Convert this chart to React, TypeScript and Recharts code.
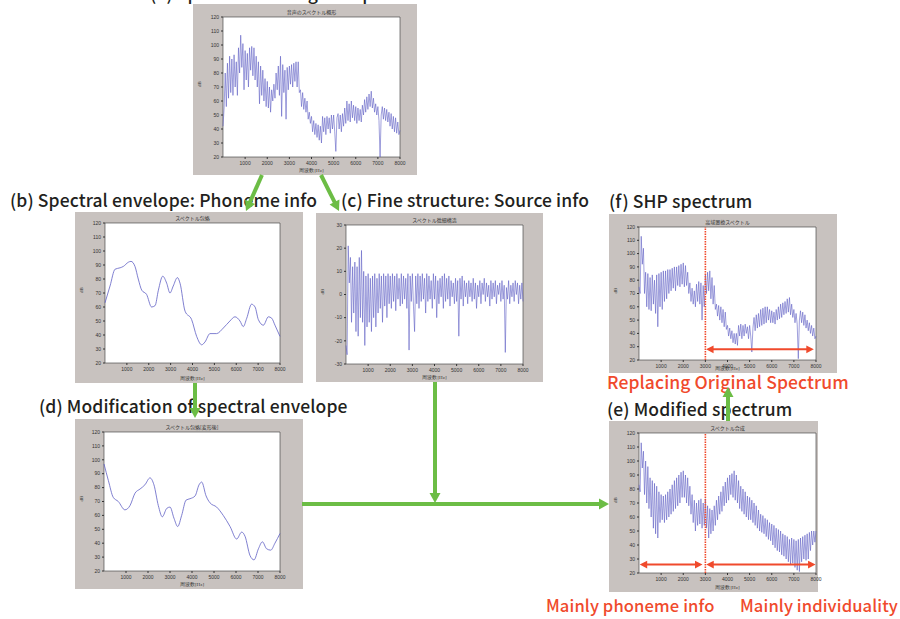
import React from "react"
import { Line, LineChart, ReferenceArea, ReferenceLine, XAxis, YAxis } from "recharts"

// frequency grid of the dense spectra (Hz)
const FREQ = [
  0, 50, 100, 150, 200, 250, 300, 350, 400, 450, 500, 550, 600, 650, 700, 750, 800, 850, 900, 950,
  1000, 1050, 1100, 1150, 1200, 1250, 1300, 1350, 1400, 1450, 1500, 1550, 1600, 1650, 1700, 1750, 1800, 1850, 1900, 1950,
  2000, 2050, 2100, 2150, 2200, 2250, 2300, 2350, 2400, 2450, 2500, 2550, 2600, 2650, 2700, 2750, 2800, 2850, 2900, 2950,
  3000, 3050, 3100, 3150, 3200, 3250, 3300, 3350, 3400, 3450, 3500, 3550, 3600, 3650, 3700, 3750, 3800, 3850, 3900, 3950,
  4000, 4050, 4100, 4150, 4200, 4250, 4300, 4350, 4400, 4450, 4500, 4550, 4600, 4650, 4700, 4750, 4800, 4850, 4900, 4950,
  5000, 5050, 5100, 5150, 5200, 5250, 5300, 5350, 5400, 5450, 5500, 5550, 5600, 5650, 5700, 5750, 5800, 5850, 5900, 5950,
  6000, 6050, 6100, 6150, 6200, 6250, 6300, 6350, 6400, 6450, 6500, 6550, 6600, 6650, 6700, 6750, 6800, 6850, 6900, 6950,
  7000, 7050, 7100, 7150, 7200, 7250, 7300, 7350, 7400, 7450, 7500, 7550, 7600, 7650, 7700, 7750, 7800, 7850, 7900, 7950,
  8000,
]

// (a) original speech spectrum, dB
const SPEECH_DB = [
  42, 55, 80, 56, 87, 62, 92, 66, 90, 64, 93, 70, 88, 64, 98, 80, 107, 84, 101, 68,
  96, 75, 94, 70, 98, 82, 99, 78, 98, 75, 92, 70, 88, 58, 85, 64, 82, 60, 76, 56,
  74, 55, 70, 52, 68, 60, 72, 62, 80, 68, 85, 64, 92, 49, 86, 66, 82, 47, 84, 68,
  85, 72, 86, 70, 87, 74, 88, 70, 88, 66, 68, 56, 66, 54, 62, 52, 60, 47, 52, 44,
  49, 38, 46, 36, 44, 34, 43, 32, 42, 30, 49, 38, 48, 36, 49, 40, 48, 37, 50, 40,
  50, 38, 24, 48, 51, 40, 50, 38, 51, 42, 55, 44, 60, 46, 58, 45, 60, 48, 57, 46,
  56, 44, 55, 46, 54, 45, 57, 50, 61, 52, 63, 54, 65, 56, 67, 55, 62, 52, 58, 50,
  56, 46, 20, 50, 56, 47, 55, 46, 54, 45, 52, 42, 51, 40, 49, 38, 48, 37, 45, 36,
  39,
]

// (c) fine structure, dB
const FINE_DB = [
  -22, -26, 21, 5, 16, -12, 12, -8, 14, -16, 12, -18, 16, -10, 19, -12, 10, -22, 8, -14,
  9, -12, 7, -16, 8, -10, 9, -14, 7, -8, 9, -6, 8, -12, 9, -5, 8, -10, 9, -4,
  8, -6, 9, -3, 8, -7, 9, -2, 7, -5, 9, -4, 8, -2, 7, -6, 9, -24, 8, -3,
  9, -5, -16, 8, -4, 9, -6, 8, -3, 9, -2, 7, -8, 9, -3, 8, -2, 6, -6, 9,
  -2, 8, -10, 6, -4, 7, -1, 8, -6, 9, -3, 7, -2, 8, -5, 6, -1, 5, -4, 7,
  -3, 6, -18, 7, -2, 8, -5, 6, -1, 5, -4, 6, -1, 5, -3, 7, -2, 5, -6, 4,
  -1, 6, -4, 5, 0, 7, -3, 5, -1, 4, -5, 6, -2, 5, -1, 6, -4, 4, 0, 5,
  -3, 6, -2, 4, -25, 3, -2, 6, -4, 4, -1, 5, -3, 6, 0, 5, -4, 4, -2, 5,
  -3,
]

// (f) SHP spectrum, dB
const SHP_DB = [
  75, 70, 113, 92, 104, 70, 86, 60, 85, 58, 82, 57, 84, 62, 80, 55, 84, 45, 85, 60,
  86, 58, 87, 64, 87, 66, 88, 70, 88, 72, 89, 74, 90, 72, 90, 76, 91, 75, 92, 77,
  93, 75, 91, 76, 86, 70, 78, 64, 74, 62, 72, 60, 77, 64, 79, 62, 78, 50, 76, 60,
  84, 70, 86, 72, 87, 66, 82, 62, 76, 58, 62, 53, 61, 50, 60, 48, 58, 45, 56, 43,
  46, 38, 44, 36, 42, 33, 40, 32, 40, 31, 46, 38, 47, 36, 46, 38, 47, 40, 45, 36,
  46, 38, 26, 44, 52, 42, 54, 44, 55, 45, 58, 46, 59, 47, 60, 48, 60, 50, 58, 48,
  57, 48, 56, 47, 58, 50, 60, 51, 62, 52, 63, 54, 64, 55, 66, 56, 67, 54, 62, 52,
  58, 48, 55, 47, 21, 50, 57, 48, 56, 46, 54, 44, 50, 42, 48, 40, 46, 38, 44, 36,
  38,
]

// (e) modified spectrum, dB
const MODIFIED_DB = [
  83, 78, 113, 95, 107, 76, 100, 70, 96, 66, 88, 60, 86, 52, 84, 48, 82, 45, 78, 56,
  76, 58, 75, 56, 76, 58, 78, 60, 80, 62, 83, 64, 86, 66, 88, 68, 90, 70, 92, 74,
  93, 74, 90, 70, 88, 68, 82, 62, 76, 56, 72, 50, 70, 54, 72, 55, 73, 52, 70, 54,
  73, 52, 68, 45, 66, 48, 65, 50, 68, 54, 72, 58, 75, 62, 78, 64, 82, 68, 85, 70,
  88, 72, 90, 76, 91, 74, 93, 72, 90, 70, 86, 66, 82, 64, 80, 62, 78, 60, 75, 58,
  74, 58, 72, 56, 70, 54, 68, 52, 65, 50, 62, 49, 61, 48, 59, 46, 58, 44, 56, 43,
  55, 40, 54, 38, 52, 36, 51, 35, 50, 33, 48, 32, 47, 30, 46, 28, 44, 26, 45, 27,
  44, 24, 43, 22, 44, 21, 45, 28, 46, 30, 47, 29, 48, 30, 49, 36, 50, 40, 50, 42,
  50,
]

// (b) spectral envelope
const ENV_FREQ = [
  0, 230, 460, 690, 840, 1070, 1190, 1370, 1520, 1680, 1900, 2130, 2290, 2440, 2640, 2820, 2970, 3120, 3310, 3430,
  3660, 3960, 4190, 4420, 4570, 4800, 5100, 5410, 5710, 5940, 6170, 6320, 6480, 6700, 6860, 7010, 7240, 7470, 7620,
  7770, 8000,
]
const ENV_DB = [
  63, 75, 87, 88, 89, 92, 92.6, 89, 80, 72, 69, 60, 61, 72, 82, 77, 70, 75, 81, 77, 57, 51, 39, 33, 35, 41, 41, 45,
  50, 53, 50, 46, 52, 62, 60, 51, 47, 53, 52, 47, 39,
]

// (d) modified spectral envelope
const MOD_ENV_FREQ = [
  0, 200, 420, 650, 950, 1180, 1410, 1640, 1860, 2090, 2270, 2470, 2650, 2850, 3000, 3180, 3350, 3530, 3730, 3910,
  4140, 4320, 4440, 4640, 4820, 5120, 5420, 5730, 6030, 6260, 6410, 6640, 6820, 7020, 7200, 7390, 7580, 7770, 8000,
]
const MOD_ENV_DB = [
  97, 85, 73, 70, 64, 67, 76, 79, 82, 87, 82, 67, 59, 65, 66, 58, 52, 60, 71, 72, 74, 82, 84, 74, 69, 66, 60, 52,
  43, 48, 45, 31, 28, 36, 41, 36, 35, 40, 47,
]

const FREQ_TICKS = [1000, 2000, 3000, 4000, 5000, 6000, 7000, 8000]
const DB_TICKS = [20, 30, 40, 50, 60, 70, 80, 90, 100, 110, 120]
const FINE_TICKS = [-30, -20, -10, 0, 10, 20, 30]

const BOX_GREY = "#c8c2bf"
const LINE_BLUE = "#6060c4"
const RED = "#f04a2c"
const GREEN = "#6cbd45"
const INK = "#231f20"
const JP = "'Noto Sans CJK JP', 'Noto Sans', sans-serif"

type Pt = { f: number; v: number }
const zip = (fs: number[], vs: number[]): Pt[] => fs.map((f, i) => ({ f, v: vs[i] }))

const TICK = { fontSize: 5, fill: "#333", fontFamily: "Arial, sans-serif" }

type PanelProps = {
  box: [number, number, number, number] // left, top, width, height of the grey frame
  pad: [number, number, number, number] // plot offset: l, r, t, b
  title: string
  data: Pt[]
  yTicks: number[]
  smooth?: boolean
  extraRight?: number // let the svg run past the grey frame so edge labels are not cut
  children?: React.ReactNode
}

function Panel({ box, pad, title, data, yTicks, smooth, extraRight = 0, children }: PanelProps) {
  const [left, top, width, height] = box
  const [l, r, t, b] = pad
  const lo = yTicks[0]
  const hi = yTicks[yTicks.length - 1]
  return (
    <div style={{ position: "absolute", left, top, width, height, background: BOX_GREY }}>
      <div
        style={{
          position: "absolute",
          left: l,
          width: width - l - r,
          top: t - 8,
          textAlign: "center",
          fontSize: 5,
          lineHeight: "6px",
          color: "#333",
          fontFamily: JP,
          whiteSpace: "nowrap",
        }}
      >
        {title}
      </div>
      <LineChart
        width={width + extraRight}
        height={height}
        data={data}
        margin={{ top: t, right: r + extraRight, left: 0, bottom: 0 }}
      >
        <XAxis
          dataKey="f"
          type="number"
          domain={[0, 8000]}
          ticks={FREQ_TICKS}
          interval={0}
          height={b}
          tick={TICK}
          tickSize={2}
          axisLine={false}
          tickLine={{ stroke: "#333" }}
          label={{ value: "周波数[Hz]", position: "insideBottom", offset: 3, fontSize: 5, fill: "#333" }}
        />
        <YAxis
          type="number"
          domain={[lo, hi]}
          ticks={yTicks}
          interval={0}
          width={l}
          tick={TICK}
          tickSize={2}
          axisLine={false}
          tickLine={{ stroke: "#333" }}
          label={{ value: "dB", angle: -90, position: "insideLeft", offset: 6, fontSize: 5, fill: "#333" }}
        />
        <ReferenceArea x1={0} x2={8000} y1={lo} y2={hi} fill="#fff" fillOpacity={1} stroke="#333" strokeWidth={0.6} />
        <Line
          dataKey="v"
          type={smooth ? "monotone" : "linear"}
          stroke={LINE_BLUE}
          strokeWidth={smooth ? 0.8 : 0.6}
          dot={false}
          isAnimationActive={false}
        />
        {children}
      </LineChart>
    </div>
  )
}

// red double-headed arrow drawn between the segment ends given by the scales
const doubleArrow = (p: any) => {
  const { x1, y1, x2, y2 } = p
  const h = 7.5
  const w = 3.8
  return (
    <g>
      <line x1={x1 + h - 1} y1={y1} x2={x2 - h + 1} y2={y2} stroke={RED} strokeWidth={2} />
      <polygon points={`${x1},${y1} ${x1 + h},${y1 - w} ${x1 + h},${y1 + w}`} fill={RED} />
      <polygon points={`${x2},${y2} ${x2 - h},${y2 - w} ${x2 - h},${y2 + w}`} fill={RED} />
    </g>
  )
}

function GreenArrow({ x1, y1, x2, y2 }: { x1: number; y1: number; x2: number; y2: number }) {
  const dx = x2 - x1
  const dy = y2 - y1
  const len = Math.hypot(dx, dy)
  const ux = dx / len
  const uy = dy / len
  const hl = 10
  const hw = 5.5
  const bx = x2 - ux * hl
  const by = y2 - uy * hl
  return (
    <g>
      <line x1={x1} y1={y1} x2={bx + ux} y2={by + uy} stroke={GREEN} strokeWidth={4} />
      <polygon points={`${x2},${y2} ${bx - uy * hw},${by + ux * hw} ${bx + uy * hw},${by - ux * hw}`} fill={GREEN} />
    </g>
  )
}

function Label({ x, y, text, color = INK, size = 17.5 }: { x: number; y: number; text: string; color?: string; size?: number }) {
  return (
    <div
      style={{
        position: "absolute",
        left: x,
        top: y,
        fontSize: size,
        letterSpacing: 0.1,
        lineHeight: "20px",
        fontFamily: JP,
        fontWeight: 500,
        color,
        whiteSpace: "nowrap",
      }}
    >
      {text}
    </div>
  )
}

export default function App() {
  return (
    <div
      style={{
        position: "absolute",
        left: 0,
        top: 0,
        width: 900,
        height: 619,
        overflow: "hidden",
        background: "#fff",
      }}
    >
      <Label x={150} y={-17} text="(a) Spectrum of original speech" />
      <Panel box={[193, 4, 224, 171]} pad={[30, 17, 13, 18]} title="音声のスペクトル概形" data={zip(FREQ, SPEECH_DB)} yTicks={DB_TICKS} />

      <Label x={10} y={190} text="(b) Spectral envelope: Phoneme info" />
      <Panel box={[75, 212, 228, 171]} pad={[30, 23, 11, 20]} title="スペクトル包絡" data={zip(ENV_FREQ, ENV_DB)} yTicks={DB_TICKS} smooth />

      <Label x={341} y={190} text="(c) Fine structure: Source info" />
      <Panel box={[316, 213, 227, 169]} pad={[30, 20, 12, 18]} title="スペクトル微細構造" data={zip(FREQ, FINE_DB)} yTicks={FINE_TICKS} />

      <Label x={609} y={191} text="(f) SHP spectrum" />
      <Panel box={[609, 214, 228, 159]} pad={[30, 21, 13, 13]} title="高域置換スペクトル" data={zip(FREQ, SHP_DB)} yTicks={DB_TICKS}>
        <ReferenceLine x={3000} stroke={RED} strokeWidth={1.6} strokeDasharray="1.5 1" />
        <ReferenceLine segment={[{ x: 3030, y: 28 }, { x: 7900, y: 28 }]} ifOverflow="visible" shape={doubleArrow} />
      </Panel>
      <Label x={607} y={372} text="Replacing Original Spectrum" color={RED} />

      <Label x={39} y={396} text="(d) Modification of spectral envelope" />
      <Panel box={[75, 419, 228, 170]} pad={[29, 23, 13, 18]} title="スペクトル包絡[変形後]" data={zip(MOD_ENV_FREQ, MOD_ENV_DB)} yTicks={DB_TICKS} smooth />

      <Label x={607} y={399} text="(e) Modified spectrum" />
      <Panel box={[609, 421, 209, 171]} pad={[30, 2, 12, 19]} extraRight={8} title="スペクトル合成" data={zip(FREQ, MODIFIED_DB)} yTicks={DB_TICKS}>
        <ReferenceLine x={3000} stroke={RED} strokeWidth={1.6} strokeDasharray="1.5 1" />
        <ReferenceLine segment={[{ x: 30, y: 26 }, { x: 2870, y: 26 }]} ifOverflow="visible" shape={doubleArrow} />
        <ReferenceLine segment={[{ x: 3040, y: 26 }, { x: 7980, y: 26 }]} ifOverflow="visible" shape={doubleArrow} />
      </Panel>

      <Label x={546} y={595} size={16.6} text="Mainly phoneme info" color={RED} />
      <Label x={740} y={595} size={16.6} text="Mainly individuality" color={RED} />

      <svg width={900} height={619} style={{ position: "absolute", left: 0, top: 0, pointerEvents: "none" }}>
        <GreenArrow x1={262} y1={175} x2={246} y2={211} />
        <GreenArrow x1={321} y1={175} x2={339} y2={211} />
        <GreenArrow x1={195} y1={383} x2={195} y2={418} />
        <GreenArrow x1={435} y1={382} x2={435} y2={503} />
        <GreenArrow x1={302} y1={504} x2={609} y2={504} />
        <GreenArrow x1={728} y1={421} x2={728} y2={387} />
      </svg>
    </div>
  )
}
